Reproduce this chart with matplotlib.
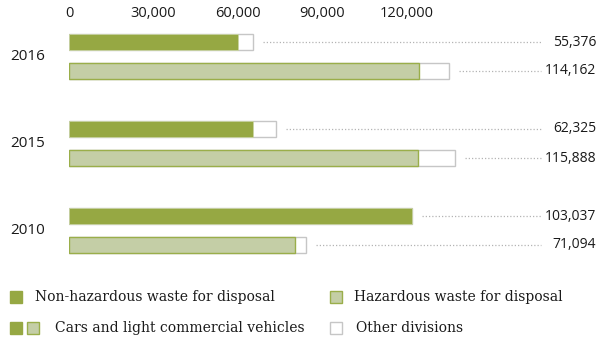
import matplotlib.pyplot as plt
from matplotlib.patches import Rectangle

# ---------- data ----------
years = ['2016', '2015', '2010']
non_haz_cars = [50800, 55300, 103037]      # dark green
non_haz_total = [55376, 62325, 103037]
haz_cars = [105100, 104800, 67900]         # light green
haz_total = [114162, 115888, 71094]
tick_values = [0, 30000, 60000, 90000, 120000]

DARK = '#96a843'
LIGHT = '#c4cea6'
LIGHT_EDGE = '#9aae4a'
WHITE_EDGE = '#c6c6c6'
DOTS = '#b4b4b4'
TXT = '#1a1a1a'

W, H = 611, 343
fig = plt.figure(figsize=(W / 100, H / 100), dpi=100)

# bars axis: zero at x=69px, ~300.4 units per pixel
units_px = 300.4
ax_top, ax_bot = 25, 270
ax = fig.add_axes([69 / W, (H - ax_bot) / H, (W - 69) / W, (ax_bot - ax_top) / H])
ax.set_xlim(0, (W - 69) * units_px)
ax.set_ylim((ax_bot - 56.5) / 87, (ax_top - 56.5) / 87)
for s in ax.spines.values():
    s.set_visible(False)
ax.set_yticks([])
ax.set_xticks([])

off = 14.5 / 87
bh = 16 / 87
pos = list(range(len(years)))
y_top = [p - off for p in pos]
y_bot = [p + off for p in pos]

# other divisions (white) underneath, cars segments on top
ax.barh(y_top, non_haz_total, height=bh, color='white', edgecolor=WHITE_EDGE, linewidth=1)
ax.barh(y_top, non_haz_cars, height=bh, color=DARK, edgecolor='#c9d3a4', linewidth=0.6)
ax.barh(y_bot, haz_total, height=bh, color='white', edgecolor=WHITE_EDGE, linewidth=1)
ax.barh(y_bot, haz_cars, height=bh, color=LIGHT, edgecolor=LIGHT_EDGE, linewidth=1)

# leader lines and totals
line_end = (541 - 69) * units_px
label_x = (596 - 69) * units_px
gap = 10 * units_px
for ys, totals in ((y_top, non_haz_total), (y_bot, haz_total)):
    for y, t in zip(ys, totals):
        ax.plot([t + gap, line_end], [y, y], linestyle=(0, (1, 1.6)), color=DOTS, lw=0.9)
        ax.text(label_x, y, f'{t:,}', ha='right', va='center', fontsize=10,
                family='Open Sans', color=TXT)

for p, yr in zip(pos, years):
    ax.text(-59 * units_px, p, yr, ha='left', va='center', fontsize=11,
            family='Open Sans', color=TXT)

# scale labels on top (own scale, ~84.3 px per 30,000)
k = (30000 / 84.3) / units_px
sec = ax.secondary_xaxis('top', functions=(lambda x: x * k, lambda x: x / k))
sec.set_xticks(tick_values)
sec.set_xticklabels([f'{v:,}' for v in tick_values], family='Open Sans', fontsize=10.5, color=TXT)
sec.tick_params(length=0, pad=3)
sec.spines['top'].set_visible(False)

# ---------- legend ----------
def square(x, y, fc, ec):
    fig.patches.append(Rectangle((x / W, 1 - (y + 6) / H), 12 / W, 12 / H, transform=fig.transFigure,
                                 facecolor=fc, edgecolor=ec, linewidth=1))

def label(x, y, s):
    fig.text(x / W, 1 - y / H, s, ha='left', va='center', family='DejaVu Serif',
             fontsize=10, color=TXT)

square(10, 297, DARK, DARK)
label(35, 297, 'Non-hazardous waste for disposal')
square(330, 297, LIGHT, LIGHT_EDGE)
label(354, 297, 'Hazardous waste for disposal')
square(10, 328, DARK, DARK)
square(27, 328, LIGHT, LIGHT_EDGE)
label(55, 328, 'Cars and light commercial vehicles')
square(330, 328, 'white', WHITE_EDGE)
label(356, 328, 'Other divisions')

fig.savefig('out.png', dpi=100)
